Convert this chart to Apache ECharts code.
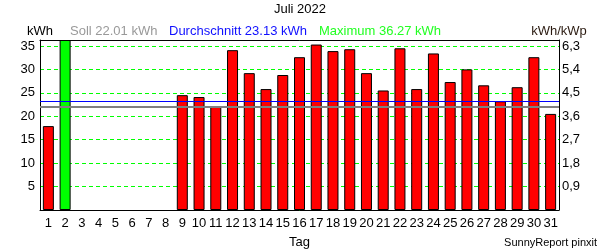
<!DOCTYPE html>
<html><head><meta charset="utf-8">
<script src="https://cdn.jsdelivr.net/npm/echarts@6/dist/echarts.min.js"></script>
<style>html,body{margin:0;padding:0;background:#fff}#c{width:600px;height:250px}</style>
</head><body><div id="c"></div>
<script>
const chartTitle = 'Juli 2022';
const days = ['1','2','3','4','5','6','7','8','9','10','11','12','13','14','15','16','17','18','19','20','21','22','23','24','25','26','27','28','29','30','31'];
const energy = [17.9, 36.27, null, null, null, null, null, null, 24.5, 24.1, 22.1, 34.1, 29.2, 25.8, 28.8, 32.6, 35.3, 33.9, 34.3, 29.2, 25.5, 34.5, 25.8, 33.4, 27.3, 30.0, 26.6, 23.2, 26.2, 32.6, 20.5];
const soll = 22.01;
const avg = 23.13;
const maxVal = 36.27;
const kWp = 35 / 6.3;
const leftTicks = [5, 10, 15, 20, 25, 30, 35];
const rightTicks = [0.9, 1.8, 2.7, 3.6, 4.5, 5.4, 6.3];

const FONT = "'Liberation Sans', Arial, sans-serif";
const chart = echarts.init(document.getElementById('c'), null, {renderer: 'canvas'});
const txt = (color, size) => ({color: color, fontSize: size || 13, fontWeight: 'normal', fontFamily: FONT});

const barData = energy.map(v => v == null ? null : {
  value: v,
  itemStyle: {color: v === maxVal ? '#00ff00' : '#ff0000'}
});

chart.setOption({
  animation: false,
  textStyle: {fontFamily: FONT},
  title: [
    {text: chartTitle, left: 'center', top: 3, padding: 0, textStyle: txt('#000')},
    {text: 'Soll ' + soll.toFixed(2) + ' kWh', left: 70, top: 25, padding: 0, textStyle: txt('#999999')},
    {text: 'Durchschnitt ' + avg.toFixed(2) + ' kWh', left: 169, top: 25, padding: 0, textStyle: txt('#1010ff')},
    {text: 'Maximum ' + maxVal.toFixed(2) + ' kWh', left: 319, top: 25, padding: 0, textStyle: txt('#22ff22')},
    {text: 'SunnyReport pinxit', right: 3, bottom: 2, padding: 0, textStyle: txt('#000', 11)}
  ],
  grid: {left: 40, right: 41, top: 40, bottom: 40, show: false, containLabel: false, outerBoundsMode: 'none'},
  xAxis: [
    {type: 'category', data: days, boundaryGap: true,
     axisLine: {show: true, onZero: false, lineStyle: {color: '#000', width: 1}},
     axisTick: {show: false},
     axisLabel: {interval: 0, margin: 7, ...txt('#000')},
     name: 'Tag', nameLocation: 'middle', nameGap: 26, nameTextStyle: txt('#000'),
     splitLine: {show: false}},
    {type: 'category', data: days, position: 'top', z: 10,
     axisLine: {show: true, onZero: false, lineStyle: {color: '#000', width: 1}},
     axisTick: {show: false}, axisLabel: {show: false}, splitLine: {show: false}}
  ],
  yAxis: [
    {type: 'value', min: 0, max: maxVal, interval: 5, position: 'left',
     axisLine: {show: true, onZero: false, lineStyle: {color: '#000'}},
     axisTick: {show: false},
     axisLabel: {margin: 5, ...txt('#000'), formatter: v => leftTicks.includes(v) ? String(v) : ''},
     splitLine: {show: true, lineStyle: {color: '#00ff00', width: 1, type: [4, 3]}},
     name: 'kWh', nameLocation: 'end', nameGap: 2, nameTextStyle: {...txt('#000'), align: 'center'}},
    {type: 'value', min: 0, max: maxVal / kWp, interval: 0.9, position: 'right',
     axisLine: {show: true, onZero: false, lineStyle: {color: '#000'}},
     axisTick: {show: false},
     axisLabel: {margin: 3, ...txt('#000'), formatter: v => {
       const hit = rightTicks.find(t => Math.abs(t - v) < 1e-6);
       return hit ? hit.toFixed(1).replace('.', ',') : '';
     }},
     splitLine: {show: false},
     name: 'kWh/kWp', nameLocation: 'end', nameGap: 2, nameTextStyle: {...txt('#2a1a10'), align: 'center'}}
  ],
  series: [{
    type: 'bar', data: barData, barWidth: 11, z: 3,
    itemStyle: {borderColor: '#000', borderWidth: 1},
    markLine: {
      silent: true, symbol: 'none', z: 5,
      label: {show: false},
      data: [
        {yAxis: soll, lineStyle: {color: '#808080', width: 2, type: 'solid'}},
        {yAxis: avg, lineStyle: {color: '#0000ff', width: 1, type: 'solid'}}
      ]
    }
  }]
});
</script></body></html>
